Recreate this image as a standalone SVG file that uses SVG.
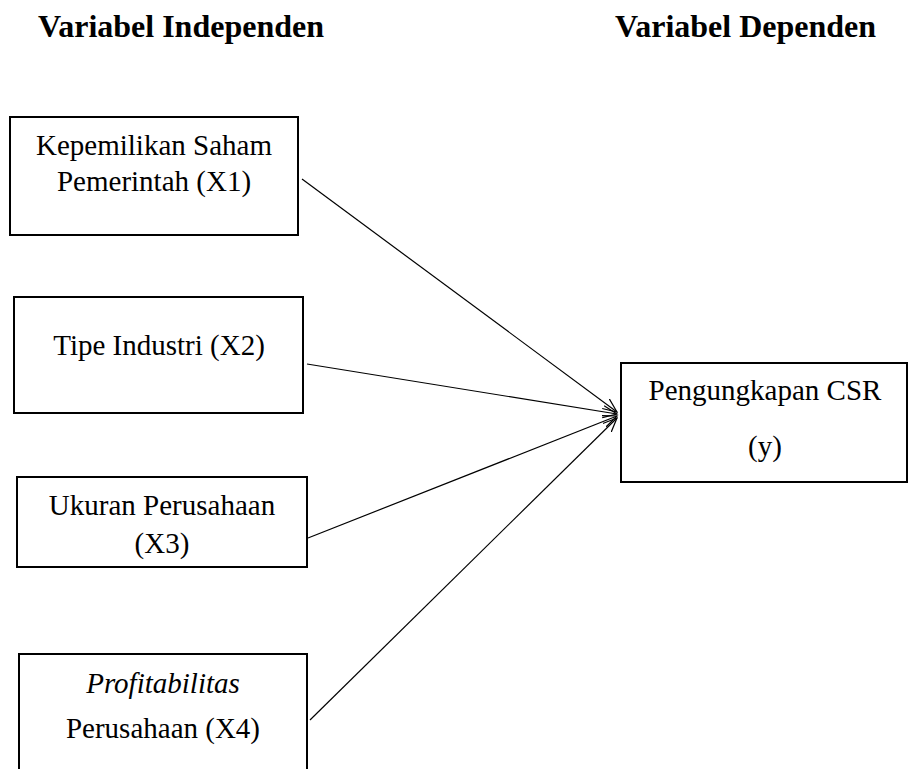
<svg xmlns="http://www.w3.org/2000/svg" width="909" height="769" viewBox="0 0 909 769">
<style>
.box{fill:#fff;stroke:#000;stroke-width:2}
.t{font-family:"Liberation Serif","Times New Roman",serif;font-size:29px;fill:#000;text-anchor:middle}
.h{font-family:"Liberation Serif","Times New Roman",serif;font-size:32px;font-weight:bold;fill:#000}
.c{stroke:#000;stroke-width:1.2;fill:none;marker-end:url(#ah)}
</style>
<defs>
<marker id="ah" markerUnits="userSpaceOnUse" markerWidth="16" markerHeight="14" refX="14" refY="6" orient="auto" viewBox="0 0 16 12">
<path d="M0,0 L14,6 L0,12" fill="none" stroke="#000" stroke-width="1.2"/>
</marker>
</defs>
<rect width="909" height="769" fill="#fff"/>
<g id="titles">
<text class="h" x="38" y="37">Variabel Independen</text>
<text class="h" x="615" y="37">Variabel Dependen</text>
</g>
<g id="connectors">
<line class="c" x1="302" y1="179" x2="617" y2="412"/>
<line class="c" x1="307" y1="364" x2="617" y2="414"/>
<line class="c" x1="308" y1="538" x2="617" y2="416"/>
<line class="c" x1="310" y1="720" x2="617" y2="418"/>
</g>
<g id="x1">
<rect class="box" x="10" y="117" width="288" height="118"/>
<text class="t" x="154" y="155">Kepemilikan Saham</text>
<text class="t" x="154" y="191">Pemerintah (X1)</text>
</g>
<g id="x2">
<rect class="box" x="14" y="297" width="289" height="116"/>
<text class="t" x="159" y="355">Tipe Industri (X2)</text>
</g>
<g id="x3">
<rect class="box" x="17" y="477" width="290" height="90"/>
<text class="t" x="162" y="515">Ukuran Perusahaan</text>
<text class="t" x="162" y="553">(X3)</text>
</g>
<g id="x4">
<rect class="box" x="19" y="654" width="288" height="130"/>
<text class="t" x="163" y="693" font-style="italic">Profitabilitas</text>
<text class="t" x="163" y="738">Perusahaan (X4)</text>
</g>
<g id="y">
<rect class="box" x="621" y="363" width="286" height="119"/>
<text class="t" x="765" y="400">Pengungkapan CSR</text>
<text class="t" x="765" y="456">(y)</text>
</g>
</svg>
